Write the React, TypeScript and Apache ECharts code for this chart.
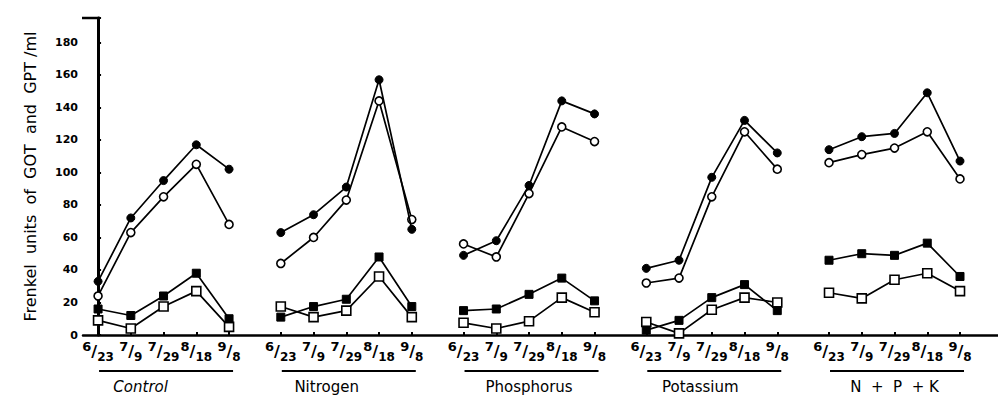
import React, { useEffect, useRef } from "react";
import * as echarts from "echarts";

// Treatment groups and sampling dates
const groups = ["Control", "Nitrogen", "Phosphorus", "Potassium", "N + P + K"];
const dates = ["6/23", "7/9", "7/29", "8/18", "9/8"];

// Enzyme activity (Frenkel units/ml), one row per treatment group, one value per date
const filledCircle = [
  [33, 72, 95, 117, 102],
  [63, 74, 91, 157, 65],
  [49, 58, 92, 144, 136],
  [41, 46, 97, 132, 112],
  [114, 122, 124, 149, 107],
];
const openCircle = [
  [24, 63, 85, 105, 68],
  [44, 60, 83, 144, 71],
  [56, 48, 87, 128, 119],
  [32, 35, 85, 125, 102],
  [106, 111, 115, 125, 96],
];
const filledSquare = [
  [16, 12, 24, 38, 10],
  [11, 17.5, 22, 48, 17.5],
  [15, 16, 25, 35, 21],
  [3, 9, 23, 31, 15],
  [46, 50, 49, 56.5, 36],
];
const openSquare = [
  [9, 4, 17.5, 27, 5],
  [17.5, 11, 15, 36, 11],
  [7.5, 4, 8.5, 23, 14],
  [8, 1, 15.5, 23, 20],
  [26, 22.5, 34, 38, 27],
];

const yAxisTitle = "Frenkel  units  of  GOT  and  GPT /ml";

// Layout
const GROUP_STRIDE = 5.58; // distance between group starts, in date steps
const X_MIN = -0.46;
const X_MAX = 27.48;
const Y_MAX = 195;
const labelShift = [-0.7, -0.6, 0, -0.35, 0]; // group title offsets, in date steps
const FONT = "'DejaVu Sans', 'Liberation Sans', sans-serif";

const xPos = (g: number, i: number) => +(g * GROUP_STRIDE + i).toFixed(2);
const allPositions: number[] = [];
const posLabel: Record<string, string> = {};
groups.forEach((_, g) =>
  dates.forEach((d, i) => {
    const p = xPos(g, i);
    allPositions.push(p);
    posLabel[p.toFixed(2)] = d;
  })
);

export default function App() {
  const ref = useRef<HTMLDivElement>(null);

  useEffect(() => {
    if (!ref.current) return;
    const chart = echarts.init(ref.current, undefined, { renderer: "svg" });

    const kinds = [
      { rows: filledCircle, symbol: "circle", size: 8, filled: true, z: 4 },
      { rows: openCircle, symbol: "circle", size: 8, filled: false, z: 3 },
      { rows: filledSquare, symbol: "rect", size: 8, filled: true, z: 4 },
      { rows: openSquare, symbol: "rect", size: 9, filled: false, z: 3 },
    ];

    const series: any[] = [];
    kinds.forEach((k) => {
      k.rows.forEach((row, g) => {
        series.push({
          type: "line",
          data: row.map((v, i) => [xPos(g, i), v]),
          symbol: k.symbol,
          symbolSize: k.size,
          showAllSymbol: true,
          z: k.z,
          lineStyle: { color: "#000", width: 1.7 },
          itemStyle: k.filled
            ? { color: "#000", borderColor: "#000", borderWidth: 1 }
            : { color: "#fff", borderColor: "#000", borderWidth: 1.6 },
          emphasis: { disabled: true },
        });
      });
    });

    chart.setOption({
      animation: false,
      grid: { left: 83, right: 0, top: 18, bottom: 63 },
      xAxis: {
        type: "value",
        min: X_MIN,
        max: X_MAX,
        splitLine: { show: false },
        axisLine: { show: true, lineStyle: { color: "#000", width: 2.5 } },
        axisTick: {
          show: true,
          inside: true,
          length: 3,
          customValues: allPositions,
          lineStyle: { color: "#000", width: 2 },
        },
        axisLabel: {
          customValues: allPositions,
          margin: 5,
          formatter: (v: number) => {
            const t = posLabel[(+v).toFixed(2)] || "";
            const [a, b] = t.split("/");
            return `{n|${a}}{s|/}{d|${b}}`;
          },
          rich: {
            n: { fontSize: 13, fontWeight: "bold", fontFamily: FONT, color: "#000", verticalAlign: "top", lineHeight: 13 },
            s: { fontSize: 16, fontWeight: "bold", fontFamily: FONT, color: "#000", lineHeight: 23 },
            d: { fontSize: 12, fontWeight: "bold", fontFamily: FONT, color: "#000", verticalAlign: "bottom", lineHeight: 12 },
          },
        },
      },
      yAxis: {
        type: "value",
        min: 0,
        max: Y_MAX,
        interval: 20,
        splitLine: { show: false },
        axisLine: { show: true, lineStyle: { color: "#000", width: 3 } },
        axisTick: { show: true, inside: true, length: 3, lineStyle: { color: "#000", width: 2 } },
        axisLabel: {
          margin: 5,
          fontSize: 11,
          fontWeight: "bold",
          fontFamily: FONT,
          color: "#000",
          formatter: (v: number) => (v > 180 ? "" : String(v)),
        },
        name: yAxisTitle,
        nameLocation: "middle",
        nameGap: 45,
        nameTextStyle: { fontSize: 16, fontFamily: FONT, color: "#000" },
      },
      series,
    });

    // Axis cap and group titles with their rules, placed through the axis scales
    const px = (x: number, y: number) =>
      chart.convertToPixel({ xAxisIndex: 0, yAxisIndex: 0 }, [x, y]) as number[];
    const graphics: any[] = [];
    const top = px(X_MIN, Y_MAX);
    graphics.push({
      type: "line",
      shape: { x1: top[0] - 1, y1: top[1], x2: top[0] + 17, y2: top[1] },
      style: { stroke: "#000", lineWidth: 2.5 },
    });
    groups.forEach((name, g) => {
      const a = px(xPos(g, 0), 0);
      const b = px(xPos(g, 4), 0);
      const c = px(xPos(g, 2) + labelShift[g], 0);
      graphics.push({
        type: "line",
        shape: { x1: a[0] + 1, y1: 371, x2: b[0] + 4, y2: 371 },
        style: { stroke: "#000", lineWidth: 2 },
      });
      graphics.push({
        type: "text",
        x: c[0],
        y: 387,
        style: {
          text: name === "N + P + K" ? "N  +  P  + K" : name,
          fontSize: 15,
          fontFamily: FONT,
          fontStyle: g === 0 ? "italic" : "normal",
          fill: "#000",
          align: "center",
          verticalAlign: "middle",
        },
      });
    });
    chart.setOption({ graphic: graphics });

    return () => chart.dispose();
  }, []);

  return (
    <div
      ref={ref}
      style={{ position: "fixed", left: 0, top: 0, width: 998, height: 398, background: "#fff" }}
    />
  );
}
